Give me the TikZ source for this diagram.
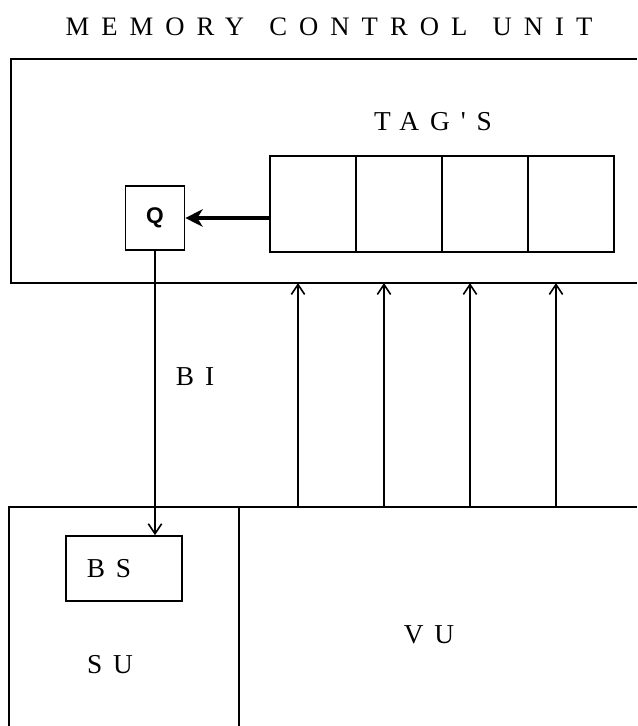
\documentclass[tikz,border=0pt]{standalone}
\usepackage{fontspec}
\setmainfont{Liberation Serif}
\newfontfamily\spacedfont[LetterSpace=40]{Liberation Serif}
\newfontfamily\titlefont[LetterSpace=45]{Liberation Serif}
\newfontfamily\qfont{Liberation Sans}
\usetikzlibrary{arrows.meta}

\tikzset{
  lbl/.style={inner sep=0.75pt, font=\fontsize{20.5}{24}\selectfont\spacedfont},
  tagcell/.style={draw, minimum width=64.5pt, minimum height=72pt, inner sep=0pt},
  barb/.style={-{Straight Barb[length=7.5pt,width=10pt]}}
}

\begin{document}
\begin{tikzpicture}[x=0.75pt,y=0.75pt,yscale=-1,xscale=1,line width=1.2pt]
\useasboundingbox (0,0) rectangle (637,726);

% title
\node[inner sep=0.75pt, font=\fontsize{20}{24}\selectfont\titlefont] (title) at (329,27) {MEMORY\kern19pt CONTROL\kern19pt UNIT};

% memory control unit (open at the right)
\draw (637,59) -- (11,59) -- (11,283) -- (637,283);
\node[lbl] (tagtxt) at (433,122) {TAG'S};

% tag register
\foreach \i in {1,...,4}
  \node[tagcell] (tag\i) at ({270+43+86*(\i-1)},204) {};

% Q box
\node[draw, minimum width=44.25pt, minimum height=48pt, inner sep=0pt,
      font=\fontsize{17}{19}\selectfont\qfont\bfseries] (q) at (155,218) {Q};
\draw[line width=3pt, -{Stealth[length=13pt,width=13pt,inset=4pt]}] (q.east -| tag1.west) -- (q.east);

% lower units
\draw (637,507) -- (9,507) -- (9,726);
\draw (239,507) -- (239,726);
\node[draw, minimum width=87pt, minimum height=48.75pt, inner sep=0pt] (bs) at (124,568.5) {};
\node[lbl] (bstxt) at (109,569) {BS};
\node[lbl] (sutxt) at (110,665) {SU};
\node[lbl] (vutxt) at (429,635) {VU};

% BI line
\draw[barb] (q.south) -- (q.south |- bs.north);
\node[lbl] (bitxt) at (195,377) {BI};

% vector unit to tags
\foreach \x in {298,384,470,556}
  \draw[barb] (\x,507) -- (\x,283);

\end{tikzpicture}
\end{document}
